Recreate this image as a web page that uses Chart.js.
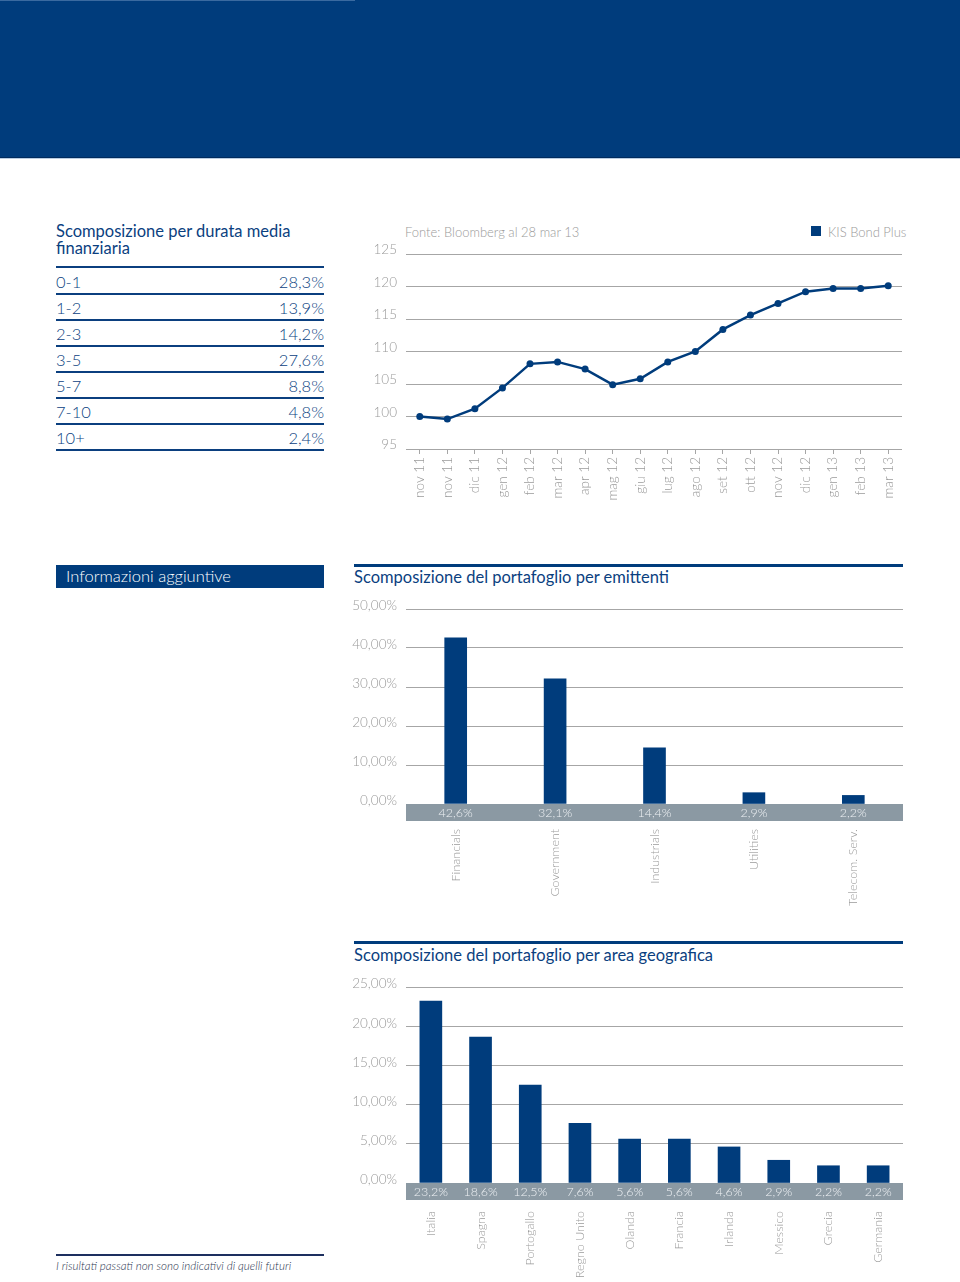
<!DOCTYPE html>
<html>
<head>
<meta charset="utf-8">
<script src="https://cdn.jsdelivr.net/npm/chart.js@4.4.1/dist/chart.umd.min.js"></script>
<style>
  html, body { margin: 0; padding: 0; background: #fff; }
  body { width: 960px; height: 1282px; position: relative; overflow: hidden; font-family: "Lato", "Open Sans", sans-serif; }
  .banner { position: absolute; left: 0; top: 0; width: 960px; height: 157px; background: #003c7c; border-bottom: 1px solid #002b5e; }
  .banner-top { position: absolute; left: 0; top: 0; width: 355px; height: 1px; background: #3a6aa0; }
  .banner-low { position: absolute; left: 0; top: 158px; width: 960px; height: 1px; background: #b8cde3; }
  .abs { position: absolute; }
  .navy { color: #0b3f7f; }
  .tbl-title { left: 56px; top: 223px; width: 270px; font-size: 16.5px; line-height: 17px; font-weight: 400; }
  .tbl-rule { left: 56px; width: 268px; background: #0b3f7f; }
  .row { left: 56px; width: 268px; font-size: 16.5px; font-weight: 300; height: 20px; line-height: 20px; }
  .row span.r { position: absolute; right: 0; }
  .info { left: 56px; top: 565px; width: 268px; height: 23px; background: #003c7c; color: #fff; font-size: 16.5px; line-height: 23px; font-weight: 300; }
  .info span { padding-left: 10px; }
  .sec-rule { left: 354px; width: 549px; height: 3px; background: #003c7c; }
  .sec-title { left: 354px; font-size: 16.5px; font-weight: 400; }
  .gray { color: #9a9a9a; font-weight: 300; }
  .foot-rule { left: 56px; top: 1254px; width: 268px; height: 2px; background: #1d2f5f; }
  .foot { left: 56px; top: 1259px; font-size: 11.6px; font-style: italic; font-weight: 300; color: #2b3550; }
  .wrap { position: absolute; }
</style>
</head>
<body>
<div class="banner"></div>
<div class="banner-top"></div>
<div class="banner-low"></div>

<div class="abs navy tbl-title">Scomposizione per durata media finanziaria</div>
<div class="abs tbl-rule" style="top:266px;height:2px;"></div>
<div id="table"></div>

<div class="abs gray" style="left:405px;top:224px;font-size:13px;">Fonte: Bloomberg al 28 mar 13</div>
<div class="abs" style="left:811px;top:226px;width:10px;height:10px;background:#003c7c;"></div>
<div class="abs gray" style="left:828px;top:224px;font-size:13px;">KIS Bond Plus</div>

<div class="wrap" style="left:340px;top:240px;width:566px;height:269px;"><canvas id="lineChart"></canvas></div>

<div class="abs info"><span>Informazioni aggiuntive</span></div>

<div class="abs sec-rule" style="top:564px;"></div>
<div class="abs navy sec-title" style="top:567px;">Scomposizione del portafoglio per emittenti</div>
<div class="wrap" style="left:340px;top:595px;width:563px;height:319px;"><canvas id="barSector"></canvas></div>

<div class="abs sec-rule" style="top:941px;"></div>
<div class="abs navy sec-title" style="top:945px;">Scomposizione del portafoglio per area geografica</div>
<div class="wrap" style="left:340px;top:973px;width:563px;height:309px;"><canvas id="barGeo"></canvas></div>

<div class="abs foot-rule"></div>
<div class="abs foot">I risultati passati non sono indicativi di quelli futuri</div>

<script>
// ---------- Data ----------
const durationBands = ['0-1', '1-2', '2-3', '3-5', '5-7', '7-10', '10+'];
const durationShares = ['28,3%', '13,9%', '14,2%', '27,6%', '8,8%', '4,8%', '2,4%'];

const navMonths = ['nov 11', 'nov 11', 'dic 11', 'gen 12', 'feb 12', 'mar 12', 'apr 12', 'mag 12', 'giu 12',
                   'lug 12', 'ago 12', 'set 12', 'ott 12', 'nov 12', 'dic 12', 'gen 13', 'feb 13', 'mar 13'];
const navValues = [100.0, 99.6, 101.2, 104.4, 108.1, 108.4, 107.3, 104.9, 105.8,
                   108.4, 110.0, 113.4, 115.6, 117.4, 119.2, 119.7, 119.7, 120.1];
const navSeriesName = 'KIS Bond Plus';

const sectorNames = ['Financials', 'Government', 'Industrials', 'Utilities', 'Telecom. Serv.'];
const sectorWeights = [42.6, 32.1, 14.4, 2.9, 2.2];

const countryNames = ['Italia', 'Spagna', 'Portogallo', 'Regno Unito', 'Olanda', 'Francia', 'Irlanda', 'Messico', 'Grecia', 'Germania'];
const countryWeights = [23.2, 18.6, 12.5, 7.6, 5.6, 5.6, 4.6, 2.9, 2.2, 2.2];

// ---------- Table ----------
const tbl = document.getElementById('table');
durationBands.forEach((b, i) => {
  const r = document.createElement('div');
  r.className = 'abs navy row';
  r.style.top = (272 + i * 26) + 'px';
  r.innerHTML = '<span>' + b + '</span><span class="r">' + durationShares[i] + '</span>';
  tbl.appendChild(r);
  const l = document.createElement('div');
  l.className = 'abs tbl-rule';
  l.style.top = (293 + i * 26) + 'px';
  l.style.height = '1.5px';
  tbl.appendChild(l);
});

// ---------- Common ----------
const NAVY = '#003c7c';
const GRID = '#a6a6a6';
const TICK = '#9a9a9a';
const FONT = { family: 'Lato', size: 13.5, weight: '300' };
const CAT_FONT = { family: 'Lato', size: 12.5, weight: '300' };
const pct = v => v.toFixed(1).replace('.', ',') + '%';
const pct2 = v => Number(v).toFixed(2).replace('.', ',') + '%';
const fitX = h => s => { s.height = h; s.paddingLeft = 0; s.paddingRight = 0; };
const fitY = s => { s.width = 66; s.paddingTop = 0; s.paddingBottom = 0; };

// ---------- Line chart ----------
new Chart(document.getElementById('lineChart'), {
  type: 'line',
  data: {
    labels: navMonths,
    datasets: [{
      label: navSeriesName,
      data: navValues,
      borderColor: NAVY,
      backgroundColor: NAVY,
      borderWidth: 2.5,
      pointRadius: 3.5,
      pointBackgroundColor: NAVY,
      pointBorderWidth: 0,
      tension: 0
    }]
  },
  options: {
    responsive: true, maintainAspectRatio: false, animation: false,
    layout: { padding: { top: 14, right: 0, left: 0, bottom: 0 } },
    plugins: { legend: { display: false }, tooltip: { enabled: false } },
    scales: {
      x: {
        type: 'category', offset: true,
        grid: { display: true, drawOnChartArea: false, drawTicks: true, tickLength: 5, color: GRID, offset: false },
        border: { display: false },
        ticks: { color: TICK, font: FONT, minRotation: 90, maxRotation: 90, padding: 3, autoSkip: false },
        afterFit: fitX(60)
      },
      y: {
        min: 95, max: 125,
        grid: { color: GRID, lineWidth: 1, drawTicks: false },
        border: { display: false },
        ticks: { stepSize: 5, color: TICK, font: FONT, padding: 9, labelOffset: -4 },
        afterFit: fitY
      }
    }
  }
});

// ---------- Band plugin (grey strip with values under bars) ----------
const bandPlugin = {
  id: 'valueBand',
  afterDraw(chart) {
    const { ctx, chartArea } = chart;
    const xs = chart.scales.x;
    const ds = chart.data.datasets[0];
    ctx.save();
    ctx.fillStyle = '#8b99a3';
    ctx.fillRect(chartArea.left, chartArea.bottom, chartArea.right - chartArea.left, 17);
    ctx.fillStyle = '#eef1f4';
    ctx.font = '300 12.5px Lato';
    ctx.textAlign = 'center';
    ctx.textBaseline = 'middle';
    ds.data.forEach((v, i) => {
      ctx.fillText(pct(v), xs.getPixelForValue(i), chartArea.bottom + 9);
    });
    ctx.restore();
  }
};

function barChart(id, labels, values, yMax, step, pad, xh) {
  new Chart(document.getElementById(id), {
    type: 'bar',
    data: { labels: labels, datasets: [{ data: values, backgroundColor: NAVY, barThickness: 22 }] },
    options: {
      responsive: true, maintainAspectRatio: false, animation: false,
      layout: { padding: { top: 14, right: 0, left: 0, bottom: 0 } },
      plugins: { legend: { display: false }, tooltip: { enabled: false } },
      scales: {
        x: {
          grid: { display: false },
          border: { display: false },
          ticks: { color: TICK, font: CAT_FONT, minRotation: 90, maxRotation: 90, padding: pad, autoSkip: false },
          afterFit: fitX(xh)
        },
        y: {
          min: 0, max: yMax,
          grid: { color: GRID, lineWidth: 1, drawTicks: false },
          border: { display: false },
          ticks: { stepSize: step, color: TICK, font: FONT, padding: 9, labelOffset: -3, callback: v => pct2(v) },
          afterFit: fitY
        }
      }
    },
    plugins: [bandPlugin]
  });
}

barChart('barSector', sectorNames, sectorWeights, 50, 10, 17, 110);
barChart('barGeo', countryNames, countryWeights, 25, 5, 20, 99);
</script>
</body>
</html>
